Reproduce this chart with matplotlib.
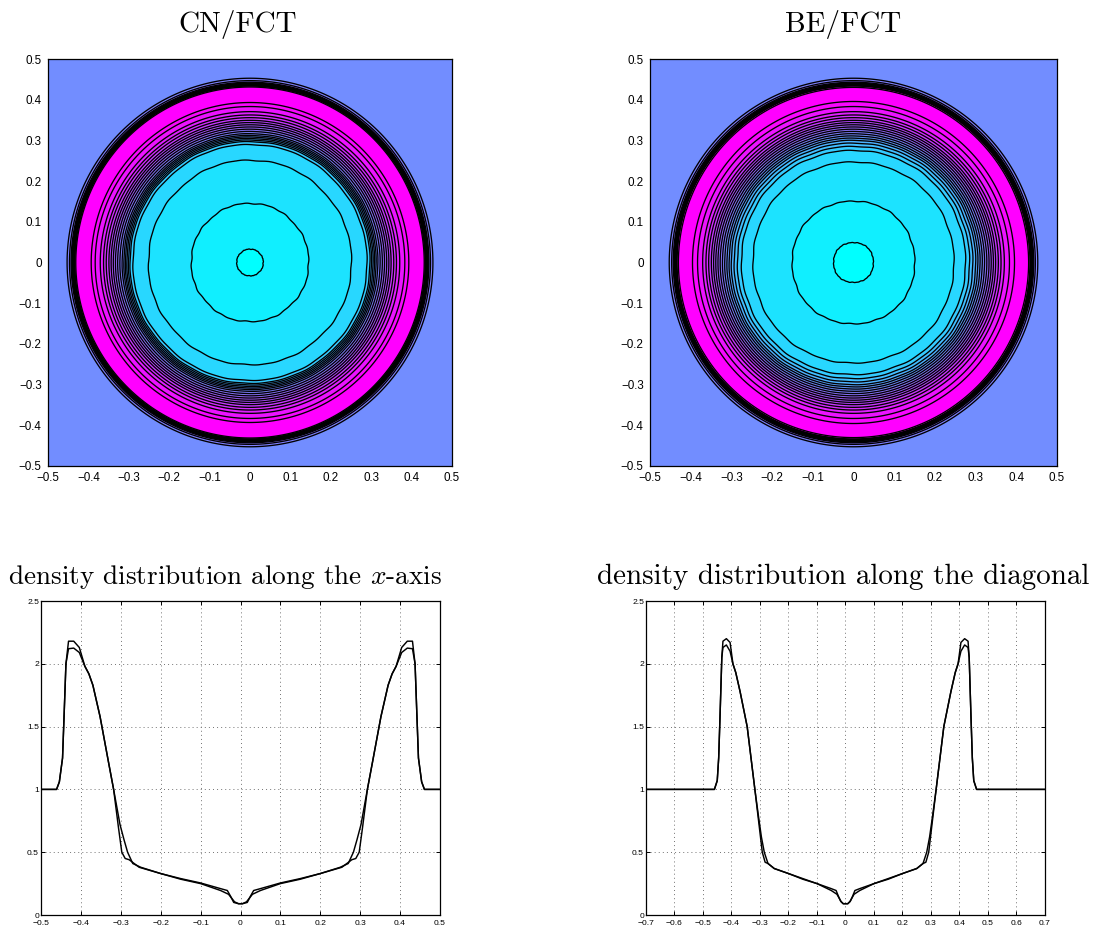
import numpy as np
import matplotlib
matplotlib.use("Agg")
import matplotlib.pyplot as plt

plt.rcParams['font.family'] = ['Liberation Sans', 'DejaVu Sans']
plt.rcParams['mathtext.fontset'] = 'cm'

# radial density profiles (x-axis cut)
r_cn = [0, .005, .017, .025, .033, .05, .1, .15, .2, .254, .279, .289, .2975, .306, .318, .331,
        .352, .37, .38, .39, .404, .418, .431, .4375, .442, .446, .454, .461, .5]
rho_cn = [.09, .09, .10, .15, .195, .21, .255, .29, .33, .38, .44, .45, .50, .70, 1.0, 1.22,
          1.58, 1.83, 1.92, 1.98, 2.13, 2.18, 2.18, 2.0, 1.6, 1.25, 1.06, 1.0, 1.0]
r_be = [0, .005, .015, .03, .05, .1, .15, .2, .25, .27, .283, .292, .302, .318, .331,
        .352, .37, .38, .39, .404, .418, .431, .4375, .442, .446, .454, .461, .5]
rho_be = [.09, .09, .105, .165, .195, .25, .285, .33, .38, .41, .5, .6, .72, 1.0, 1.22,
          1.58, 1.83, 1.92, 1.98, 2.09, 2.125, 2.12, 2.0, 1.6, 1.25, 1.06, 1.0, 1.0]

# diagonal cut
r_diag_a = [0, .008, .017, .025, .033, .05, .1, .15, .2, .25, .272, .282, .292, .305, .318, .345,
            .37, .385, .395, .405, .418, .43, .434, .44, .445, .45, .46, .7]
rho_diag_a = [.09, .09, .11, .15, .195, .21, .25, .29, .33, .37, .41, .42, .50, .75, 1.0, 1.5,
              1.78, 1.93, 2.0, 2.17, 2.2, 2.18, 2.05, 1.6, 1.25, 1.07, 1.0, 1.0]
r_diag_b = [0, .008, .015, .03, .05, .1, .15, .2, .25, .272, .285, .295, .305, .318, .345,
            .37, .385, .395, .405, .418, .43, .434, .44, .445, .45, .46, .7]
rho_diag_b = [.09, .09, .105, .165, .195, .25, .285, .33, .37, .41, .5, .62, .78, 1.0, 1.5,
              1.78, 1.93, 2.0, 2.1, 2.15, 2.13, 2.05, 1.6, 1.25, 1.07, 1.0, 1.0]

# small angular ripple seen on the inner contours: (harmonic, amplitude, phase)
ripple_cn = [(8, .0007, .3), (16, .0007, 1.1), (28, .0006, 2.0)]
ripple_be = [(4, .0010, 0.0), (16, .0007, .7), (28, .0006, 1.9)]

contour_levels = [.195 + .093 * k for k in range(21)]
top_ticks = [-.5, -.4, -.3, -.2, -.1, 0, .1, .2, .3, .4, .5]
top_labels = ['\u22120.5', '\u22120.4', '\u22120.3', '\u22120.2', '\u22120.1', '0', '0.1', '0.2', '0.3', '0.4', '0.5']
diag_ticks = [-.7, -.6, -.5, -.4, -.3, -.2, -.1, 0, .1, .2, .3, .4, .5, .6, .7]
diag_labels = ['\u22120.7', '\u22120.6', '\u22120.5', '\u22120.4', '\u22120.3', '\u22120.2', '\u22120.1', '0',
               '0.1', '0.2', '0.3', '0.4', '0.5', '0.6', '0.7']
y_ticks = [0, .5, 1, 1.5, 2, 2.5]
y_labels = ['0', '0.5', '1', '1.5', '2', '2.5']

W, H = 1095, 926
fig = plt.figure(figsize=(W / 100, H / 100), dpi=100)


def add_axes(x0, x1, y0, y1):
    return fig.add_axes([x0 / W, 1 - y1 / H, (x1 - x0) / W, (y1 - y0) / H])


def draw_contours(ax, r_prof, rho_prof, ripple):
    g = np.linspace(-.5, .5, 901)
    xx, yy = np.meshgrid(g, g)
    rr = np.hypot(xx, yy)
    th = np.arctan2(yy, xx)
    # ripple only on the inner part, the outer rings are clean
    weight = np.interp(rr, [0, .03, .1, .27, .33, 1], [0, .5, 1, 1, 0, 0])
    shift = sum(a * np.cos(n * th + p) for n, a, p in ripple)
    field = np.interp(rr * 1.01 + weight * shift, r_prof, rho_prof)
    ax.contourf(xx, yy, field, levels=contour_levels, cmap='cool', vmin=.12, vmax=2.06, extend='both')
    ax.contour(xx, yy, field, levels=contour_levels, colors='k', linewidths=.95)
    ax.set_xlim(-.5, .5)
    ax.set_ylim(-.5, .5)
    ax.set_xticks(top_ticks)
    ax.set_xticklabels(top_labels)
    ax.set_yticks(top_ticks)
    ax.set_yticklabels(top_labels)
    ax.tick_params(length=0, labelsize=8.4, pad=4.5)
    ax.tick_params(axis='x', pad=4)
    for s in ax.spines.values():
        s.set_linewidth(.9)


def draw_profile(ax, r_a, rho_a, r_b, rho_b, lim, ticks, labels):
    for r, rho in ((r_a, rho_a), (r_b, rho_b)):
        r = np.array(r)
        rho = np.array(rho)
        ax.plot(np.concatenate((-r[::-1], r[1:])), np.concatenate((rho[::-1], rho[1:])), color='k', lw=1.05)
    ax.set_xlim(-lim, lim)
    ax.set_ylim(0, 2.5)
    ax.set_xticks(ticks)
    ax.set_xticklabels(labels)
    ax.set_yticks(y_ticks)
    ax.set_yticklabels(y_labels)
    ax.grid(True, linestyle=(0, (1, 3.2)), color='0.45', lw=.7)
    ax.tick_params(direction='in', length=3, labelsize=6.1, pad=1.5, top=True, right=True, width=.7)
    ax.tick_params(axis='x', pad=3.5)
    for s in ax.spines.values():
        s.set_linewidth(.9)


ax1 = add_axes(48, 452, 59, 466)
draw_contours(ax1, r_cn, rho_cn, ripple_cn)
ax2 = add_axes(650, 1057, 59, 466)
draw_contours(ax2, r_be, rho_be, ripple_be)
ax3 = add_axes(41, 440, 601, 915)
draw_profile(ax3, r_cn, rho_cn, r_be, rho_be, .5, top_ticks, top_labels)
ax4 = add_axes(646, 1045, 601, 915)
draw_profile(ax4, r_diag_a, rho_diag_a, r_diag_b, rho_diag_b, .7, diag_ticks, diag_labels)

title_font = dict(family='cmr10', ha='center', va='baseline')
fig.text(238 / W, 1 - 32 / H, 'CN/FCT', fontsize=21, **title_font)
fig.text(843 / W, 1 - 32 / H, 'BE/FCT', fontsize=21, **title_font)
fig.text(224.5 / W, 1 - 584 / H, r'density distribution along the $x$-axis', fontsize=19.6, **title_font)
fig.text(843 / W, 1 - 584 / H, 'density distribution along the diagonal', fontsize=20.9, **title_font)

fig.savefig('out.png', dpi=100)
